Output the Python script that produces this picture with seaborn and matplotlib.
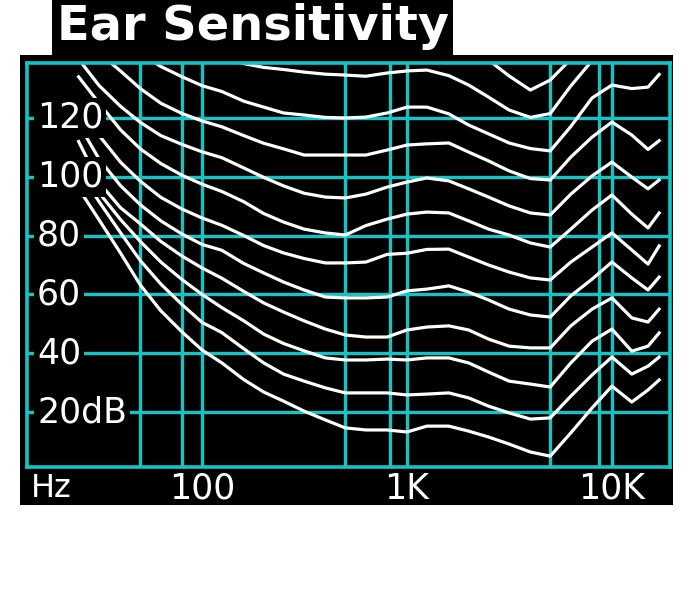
import numpy as np
import pandas as pd
import matplotlib
matplotlib.use("Agg")
import matplotlib.pyplot as plt
from matplotlib.patches import Rectangle
from matplotlib.ticker import NullLocator
import seaborn as sns

# -----------------------------
# Data (dB SPL per frequency)
# -----------------------------
freq_hz = [25, 31.5, 40, 50, 63, 80, 100, 125, 160, 200, 250, 315, 400, 500, 630, 800,
           1000, 1250, 1600, 2000, 2500, 3150, 4000, 5000, 6300, 8000, 10000, 12500, 15000, 17000]

c0 = [172, 167, 162, 158, 155, 152.5, 151, 150, 149, 148.5, 148, 147.5, 147, 147, 147, 147.5,
      148, 148, 146.5, 144, 139.7, 134.3, 129.5, 132.9, 140, 147, 152, 151, 150, 155]
c1 = [165, 160, 155, 150.5, 147, 144, 142, 140.5, 138.5, 137.2, 136.5, 135.6, 134.9, 134.6, 134.2, 135.3,
      136, 136.3, 134.4, 131.2, 127.1, 122.7, 120.2, 121.5, 130.9, 139.5, 146, 145, 144, 148]
c2 = [158, 153, 147, 142, 137.5, 134, 131, 129, 125.7, 123.7, 121.7, 121, 120.2, 120, 120.3, 121.7,
      123.7, 123.7, 121.4, 117.6, 114.6, 111.5, 109.6, 108.8, 117.1, 126.8, 131.2, 130, 130.5, 134.8]
c3 = [148, 142, 136, 130, 125, 121.5, 119, 117, 114, 111.4, 109.5, 107.4, 107.4, 107.4, 107.4, 109.1,
      110.8, 111.2, 111.5, 108.4, 105.4, 102, 99.4, 98.9, 106.7, 113.5, 118.6, 114.2, 109.3, 112.3]
c4 = [140, 131, 124, 118.5, 114, 111, 108.5, 106.5, 103, 99.8, 96.9, 94.4, 93.1, 92.8, 94.1, 96.5,
      98.2, 99.6, 98.6, 95.9, 93.1, 90.1, 87.7, 87, 94.1, 100.3, 105, 99.9, 95.9, 98.9]
c5 = [134, 125, 116, 109.5, 104.5, 100.5, 97.5, 95, 91.5, 87.5, 84.6, 82.2, 80.9, 80.2, 83.4, 85.6,
      87.3, 88, 87.7, 85, 82.2, 80.2, 77.5, 76.1, 82.2, 88.7, 93.8, 87.3, 82.6, 87.7]
c6 = [125, 114, 105, 98.5, 93, 89, 86, 83.5, 80, 76.6, 74.1, 72.2, 70.7, 70.7, 71, 73.6,
      74, 75.3, 75.4, 72.7, 70, 67.6, 65.6, 64.9, 71, 76.1, 80.9, 75.1, 70.3, 76.5]
c7 = [118, 106, 97, 90.5, 85, 80.5, 77, 75, 70.5, 67.3, 64.2, 61.5, 59.1, 58.8, 58.8, 59.1,
      61.2, 61.8, 62.9, 60.8, 58.1, 55, 53, 52.3, 59.5, 65.2, 71, 65.6, 61.5, 65.9]
c8 = [112, 98, 89.5, 84, 78, 73, 69, 65.5, 61, 57.1, 54, 51, 48.2, 46.2, 45.5, 45.5,
      47.9, 48.9, 49.3, 47.9, 44.8, 42.4, 41.8, 41.8, 49.3, 55, 58.8, 52, 50.6, 55]
c9 = [106, 94.5, 85.5, 78, 71, 65, 60, 55.5, 51, 46.5, 43.3, 40.8, 38.4, 37.7, 37.7, 38,
      37.7, 38.4, 38.4, 36.7, 33.6, 30.5, 29.5, 28.5, 36.7, 44.1, 48.2, 40.7, 42.4, 46.9]
c10 = [102, 91.5, 81, 71.5, 63.5, 56.5, 50.5, 47, 41.5, 36.7, 32.9, 30.5, 28.2, 26.5, 26.5, 26.5,
       25.8, 26.1, 26.5, 24.8, 22, 19.7, 17.6, 18, 25.4, 32.6, 38.7, 32.9, 35.6, 38.7]
c11 = [96, 85.3, 74.1, 63.2, 54.4, 47.2, 41.1, 36.7, 31, 26.8, 23.7, 20.3, 17.3, 14.6, 13.9, 13.9,
       13.2, 15.2, 15.2, 13.5, 11.5, 9.1, 6.4, 5, 12.9, 21.4, 28.8, 23.4, 27.5, 30.9]

curves = [c0, c1, c2, c3, c4, c5, c6, c7, c8, c9, c10, c11]

grid_hz = [50, 80, 100, 500, 830, 1000, 5000, 8600, 10000]
grid_db = [20, 40, 60, 80, 100, 120]
y_labels = ["20dB", "40", "60", "80", "100", "120"]
x_label_hz = [100, 1000, 10000]
x_labels = ["100", "1K", "10K"]

CYAN = "#12c4c4"

# long form table for seaborn
rows = []
for i, vals in enumerate(curves):
    for f, v in zip(freq_hz, vals):
        rows.append({"hz": f, "db": v, "curve": f"c{i}"})
df = pd.DataFrame(rows)

# -----------------------------
# Figure
# -----------------------------
fig = plt.figure(figsize=(6.99, 6.0), dpi=100)
fig.patch.set_facecolor("white")

# title box and chart panel (figure pixels -> fractions)
fig.add_artist(Rectangle((52 / 699, 1 - 55 / 600), 401 / 699, 55 / 600,
                         transform=fig.transFigure, facecolor="black", edgecolor="none", zorder=0))
fig.add_artist(Rectangle((20 / 699, 1 - 505 / 600), 653 / 699, 450 / 600,
                         transform=fig.transFigure, facecolor="black", edgecolor="none", zorder=0))

ax = fig.add_axes([27 / 699, 1 - 467 / 600, 643 / 699, 404 / 600])
ax.set_facecolor("black")

sns.lineplot(data=df, x="hz", y="db", hue="curve", palette=["white"] * len(curves),
             estimator=None, legend=False, linewidth=2.3, ax=ax)

ax.set_xscale("log")
ax.set_xlim(14, 19200)
ax.set_ylim(1.3, 138.7)
ax.set_xticks(grid_hz)
ax.set_yticks(grid_db)
ax.xaxis.set_minor_locator(NullLocator())
ax.tick_params(length=0, labelbottom=False, labelleft=False)
ax.set_xlabel("")
ax.set_ylabel("")
ax.grid(True, color=CYAN, linewidth=2.4)
ax.set_axisbelow(True)
for sp in ax.spines.values():
    sp.set_color(CYAN)
    sp.set_linewidth(2.6)

# dB labels sit inside the panel on black boxes
for db, lab in zip(grid_db, y_labels):
    ax.text(0.0156, db, lab, transform=ax.get_yaxis_transform(), ha="left", va="center",
            color="white", fontsize=25, zorder=5,
            bbox=dict(facecolor="black", edgecolor="none", pad=2))

# frequency labels under the panel
for f, lab in zip(x_label_hz, x_labels):
    ax.text(f, -0.054, lab, transform=ax.get_xaxis_transform(), ha="center", va="center",
            color="white", fontsize=25)
ax.text(0.006, -0.054, "Hz", transform=ax.transAxes, ha="left", va="center",
        color="white", fontsize=23)

fig.text(57 / 699, 1 - 27 / 600, "Ear Sensitivity", color="white", fontsize=34.5,
         fontweight="bold", ha="left", va="center")

fig.savefig("out.png", dpi=100, facecolor="white")
